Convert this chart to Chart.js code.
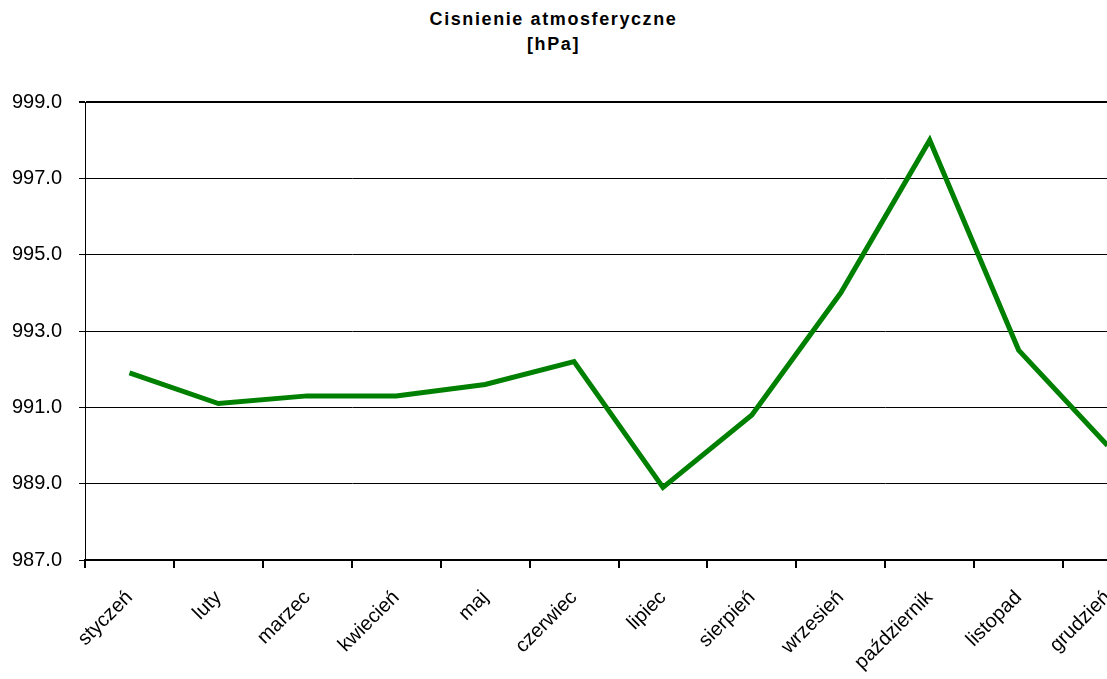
<!DOCTYPE html>
<html>
<head>
<meta charset="utf-8">
<script src="https://cdn.jsdelivr.net/npm/chart.js@4/dist/chart.umd.min.js"></script>
<style>
    body { margin: 0; overflow: hidden; background: #fff; width: 1107px; height: 679px; position: relative; }
    #tytul {
        position: absolute; left: 0; top: 7px; width: 1107px; text-align: center;
        font: bold 18px "Liberation Sans", Arial, sans-serif; letter-spacing: 1.6px; line-height: 25px; color: #000;
    }
    #wykres { position: absolute; left: 0; top: 0; }
</style>
</head>
<body>
<div id="tytul">Cisnienie atmosferyczne<br>[hPa]</div>
<canvas id="wykres" width="1152" height="679"></canvas>
<script>
const miesiace = ['styczeń', 'luty', 'marzec', 'kwiecień', 'maj', 'czerwiec', 'lipiec', 'sierpień', 'wrzesień', 'październik', 'listopad', 'grudzień'];
const cisnienie = [991.9, 991.1, 991.3, 991.3, 991.6, 992.2, 988.9, 990.8, 994.0, 998.0, 992.5, 990.0];
const osY = [987, 999, 2]; // min, max, krok

const czcionkaY = { family: '"Liberation Sans", Arial, sans-serif', size: 20 };
const czcionkaX = { family: '"Liberation Sans", Arial, sans-serif', size: 20 };

const ctx = document.getElementById('wykres').getContext('2d');
new Chart(ctx, {
    type: 'line',
    data: {
        labels: miesiace,
        datasets: [{
            data: cisnienie,
            borderColor: '#008000',
            borderWidth: 5,
            pointRadius: 0,
            tension: 0,
            fill: false
        }]
    },
    options: {
        responsive: false,
        animation: false,
        devicePixelRatio: 1,
        layout: { padding: { top: 102, right: 0, left: 0, bottom: 0 } },
        plugins: { legend: { display: false }, tooltip: { enabled: false } },
        scales: {
            x: {
                offset: true,
                grid: { offset: true, drawOnChartArea: false, drawTicks: true, tickLength: 8, color: '#000', lineWidth: 2 },
                border: { color: '#000', width: 2 },
                ticks: { color: '#000', font: czcionkaX, autoSkip: false, minRotation: 45, maxRotation: 45, padding: 18 },
                afterFit(scale) { scale.height = 119; }
            },
            y: {
                min: osY[0],
                max: osY[1],
                grid: {
                    color: '#000',
                    lineWidth: c => (c.tick && c.tick.value === osY[1]) ? 2 : 1,
                    tickLength: 6
                },
                border: { color: '#000', width: 1 },
                ticks: {
                    stepSize: osY[2], color: '#000', font: czcionkaY, padding: 17,
                    callback: v => v.toFixed(1)
                },
                afterFit(scale) { scale.width = 85; }
            }
        }
    }
});
</script>
</body>
</html>
